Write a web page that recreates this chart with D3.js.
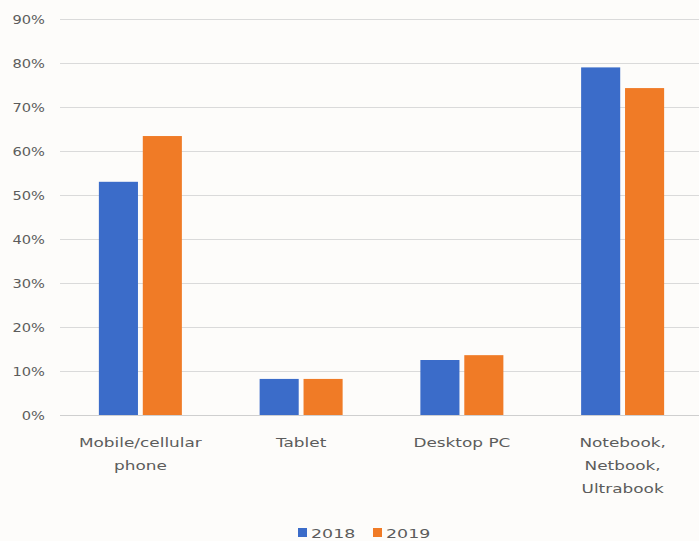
<!DOCTYPE html>
<html>
<head>
<meta charset="utf-8">
<script src="https://cdn.jsdelivr.net/npm/d3@7"></script>
<style>
  html, body { margin: 0; padding: 0; background: #fdfcfa; }
  svg { display: block; }
  text { font-family: "DejaVu Sans", sans-serif; fill: #5c5c5c; }
</style>
</head>
<body>
<svg id="chart" width="699" height="541"></svg>
<script>
// Device usage share by category, 2018 vs 2019
const categories = [
  ["Mobile/cellular", "phone"],
  ["Tablet"],
  ["Desktop PC"],
  ["Notebook,", "Netbook,", "Ultrabook"]
];
const years = ["2018", "2019"];
const values2018 = [0.53, 0.082, 0.125, 0.79];
const values2019 = [0.634, 0.082, 0.136, 0.743];
const yTicks = [0, 0.1, 0.2, 0.3, 0.4, 0.5, 0.6, 0.7, 0.8, 0.9];
const colors = ["#3b6cc9", "#f07b26"];

const svg = d3.select("#chart");
const stretch = 1.22;    // horizontal stretch for tick labels
const catStretch = 1.3;  // horizontal stretch for category labels

const x = d3.scaleBand()
  .domain(d3.range(categories.length))
  .range([60, 703])
  .paddingInner(0)
  .paddingOuter(0);

const y = d3.scaleLinear().domain([0, 0.9]).range([415, 19]);

const inner = d3.scaleBand()
  .domain(years)
  .range([x.bandwidth() / 2 - 41.5, x.bandwidth() / 2 + 41.5])
  .paddingInner(0.11);

// Gridlines
svg.append("g")
  .selectAll("line")
  .data(yTicks)
  .join("line")
  .attr("x1", 60).attr("x2", 699)
  .attr("y1", d => Math.round(y(d)) + 0.5)
  .attr("y2", d => Math.round(y(d)) + 0.5)
  .attr("stroke", d => d === 0 ? "#cfcfcf" : "#dadada")
  .attr("stroke-width", 1.2);

// Y tick labels
const fmt = d3.format(".0%");
svg.append("g")
  .selectAll("g")
  .data(yTicks)
  .join("g")
  .attr("transform", d => `translate(45,${y(d) + 4.5}) scale(${stretch},1)`)
  .append("text")
  .attr("text-anchor", "end")
  .attr("font-size", 12)
  .text(d => fmt(d));

// Bars
const series = [values2018, values2019];
const groups = svg.append("g")
  .selectAll("g")
  .data(categories.map((c, i) => i))
  .join("g")
  .attr("transform", i => `translate(${x(i)},0)`);

groups.selectAll("rect")
  .data(i => years.map((yr, k) => ({ yr, k, v: series[k][i] })))
  .join("rect")
  .attr("x", d => inner(d.yr))
  .attr("width", inner.bandwidth())
  .attr("y", d => y(d.v))
  .attr("height", d => y(0) - y(d.v))
  .attr("fill", d => colors[d.k]);

// Category labels
const catLabels = svg.append("g")
  .selectAll("g")
  .data(categories.map((lines, i) => ({ lines, i })))
  .join("g")
  .attr("transform", d => `translate(${x(d.i) + x.bandwidth() / 2},447) scale(${catStretch},1)`);

catLabels.selectAll("text")
  .data(d => d.lines)
  .join("text")
  .attr("text-anchor", "middle")
  .attr("font-size", 13)
  .attr("y", (d, j) => j * 23)
  .text(d => d);

// Legend
const legendItems = [{ yr: years[0], x: 298 }, { yr: years[1], x: 373 }];
const legend = svg.append("g")
  .selectAll("g")
  .data(legendItems.map((d, k) => ({ ...d, k })))
  .join("g")
  .attr("transform", d => `translate(${d.x},528)`);

legend.append("rect")
  .attr("width", 9).attr("height", 9)
  .attr("fill", d => colors[d.k]);

legend.append("g")
  .attr("transform", `translate(13,9.5) scale(1.45,1)`)
  .append("text")
  .attr("font-size", 12)
  .text(d => d.yr);
</script>
</body>
</html>
